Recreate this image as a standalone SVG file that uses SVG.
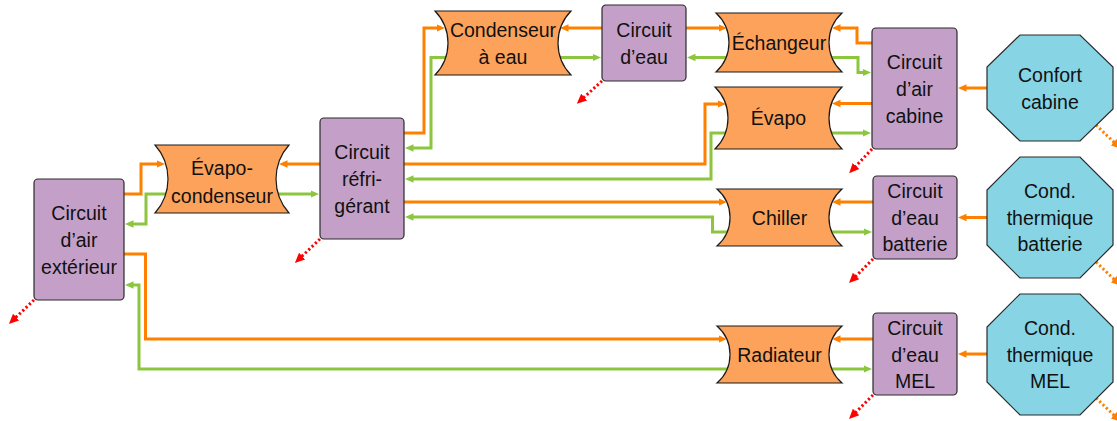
<svg xmlns="http://www.w3.org/2000/svg" width="1117" height="421" viewBox="0 0 1117 421">
<style>
.box{fill:#C4A0C8;stroke:#2a2a2a;stroke-width:1.2}
.hx{fill:#FDA25A;stroke:#1a1a1a;stroke-width:1.2}
.oct{fill:#87D4E5;stroke:#2a2a2a;stroke-width:1.2}
text{font-family:"Liberation Sans",Arial,sans-serif;font-size:19.5px;fill:#111;text-anchor:middle}
.o{fill:none;stroke:#FF8000;stroke-width:3;marker-end:url(#ao)}
.g{fill:none;stroke:#8CC63F;stroke-width:3;marker-end:url(#ag)}
.r{fill:none;stroke:#FF0000;stroke-width:3;stroke-dasharray:2.2 2.4;marker-end:url(#ar)}
.d{fill:none;stroke:#FF8000;stroke-width:3;stroke-dasharray:2.2 2.4;marker-end:url(#ad)}
</style>
<defs>
<marker id="ao" markerUnits="userSpaceOnUse" markerWidth="9" markerHeight="9" viewBox="0 0 9 9" refX="3.5" refY="4.5" orient="auto"><path d="M0,0.8 L8.5,4.5 L0,8.2 Z" fill="#FF8000"/></marker>
<marker id="ag" markerUnits="userSpaceOnUse" markerWidth="9" markerHeight="9" viewBox="0 0 9 9" refX="3.5" refY="4.5" orient="auto"><path d="M0,0.8 L8.5,4.5 L0,8.2 Z" fill="#8CC63F"/></marker>
<marker id="ar" markerUnits="userSpaceOnUse" markerWidth="11" markerHeight="11" viewBox="0 0 11 11" refX="3.5" refY="5.5" orient="auto"><path d="M0,1 L10,5.5 L0,10 Z" fill="#FF0000"/></marker>
<marker id="ad" markerUnits="userSpaceOnUse" markerWidth="11" markerHeight="11" viewBox="0 0 11 11" refX="3.5" refY="5.5" orient="auto"><path d="M0,1 L10,5.5 L0,10 Z" fill="#FF8000"/></marker>
</defs>

<g id="connectors">
<path class="o" d="M124,194 H141 V164 H160"/>
<path class="g" d="M166,194 H146 V224 H130"/>
<path class="o" d="M320,164 H284"/>
<path class="g" d="M278,194 H314"/>
<path class="o" d="M124,254 H145.5 V339 H722"/>
<path class="g" d="M727,369 H139 V285 H130"/>
<path class="o" d="M404,133 H424 V28 H440"/>
<path class="g" d="M446,57.5 H431 V148 H410"/>
<path class="o" d="M602,28 H565"/>
<path class="g" d="M560,57.5 H596"/>
<path class="o" d="M686,28 H722"/>
<path class="g" d="M727,57.5 H692"/>
<path class="o" d="M872,43 H857 V28 H837"/>
<path class="g" d="M832,57.5 H858 V72.5 H866"/>
<path class="o" d="M404,164 H705 V104 H721"/>
<path class="g" d="M726,133 H711 V179 H410"/>
<path class="o" d="M872,103.5 H837"/>
<path class="g" d="M832,133 H866"/>
<path class="o" d="M404,202 H722"/>
<path class="g" d="M727,232 H712.5 V217 H410"/>
<path class="o" d="M873,202 H837"/>
<path class="g" d="M832,232 H867"/>
<path class="o" d="M987,217.5 H963"/>
<path class="o" d="M987,88 H963"/>
<path class="o" d="M873,339 H837"/>
<path class="g" d="M832,369 H867"/>
<path class="o" d="M987,354 H963"/>
<path class="r" d="M34,300 L13.6,319.5"/>
<path class="r" d="M320,239 L299.6,258.5"/>
<path class="r" d="M602,81 L581.6,99.5"/>
<path class="r" d="M872,149 L853.6,168.5"/>
<path class="r" d="M873,259 L853.6,278.5"/>
<path class="r" d="M873,395 L853.6,414.5"/>
<path class="d" d="M1096,125 L1116.4,144.5"/>
<path class="d" d="M1096,262 L1116.4,281.5"/>
<path class="d" d="M1096,398 L1116.4,417.5"/>
</g>

<g id="ext">
<rect class="box" x="34" y="179" width="90" height="121" rx="4"/>
<text x="79" y="220">Circuit</text><text x="79" y="247">d’air</text><text x="79" y="274">extérieur</text>
</g>
<g id="evapocond">
<path class="hx" d="M155,145 H289 A51,51 0 0 0 289,213 H155 A51,51 0 0 0 155,145 Z"/>
<text x="222" y="175">Évapo-</text><text x="222" y="202.5">condenseur</text>
</g>
<g id="refri">
<rect class="box" x="320" y="118" width="84" height="121" rx="4"/>
<text x="362" y="158.5">Circuit</text><text x="362" y="185.5">réfri-</text><text x="362" y="212.5">gérant</text>
</g>
<g id="condeau">
<path class="hx" d="M435,11 H571 A45.9,45.9 0 0 0 571,75 H435 A45.9,45.9 0 0 0 435,11 Z"/>
<text x="503" y="37">Condenseur</text><text x="503" y="63.5">à eau</text>
</g>
<g id="circeau">
<rect class="box" x="602" y="5" width="84" height="76" rx="4"/>
<text x="644" y="37">Circuit</text><text x="644" y="63.5">d’eau</text>
</g>
<g id="echangeur">
<path class="hx" d="M716,13 H842 A40,40 0 0 0 842,72 H716 A40,40 0 0 0 716,13 Z"/>
<text x="779" y="49.5">Échangeur</text>
</g>
<g id="evapo">
<path class="hx" d="M715,87 H842 A43.5,43.5 0 0 0 842,149 H715 A43.5,43.5 0 0 0 715,87 Z"/>
<text x="778.5" y="125">Évapo</text>
</g>
<g id="cabine">
<rect class="box" x="872" y="28" width="85" height="121" rx="4"/>
<text x="914.5" y="69">Circuit</text><text x="914.5" y="96">d’air</text><text x="914.5" y="122.5">cabine</text>
</g>
<g id="confort">
<path class="oct" d="M1020,35 H1080 L1113,67 V109 L1080,141 H1020 L987,109 V67 Z"/>
<text x="1050" y="82">Confort</text><text x="1050" y="108.5">cabine</text>
</g>
<g id="chiller">
<path class="hx" d="M717,189 H842 A37.7,37.7 0 0 0 842,246 H717 A37.7,37.7 0 0 0 717,189 Z"/>
<text x="779.5" y="224.5">Chiller</text>
</g>
<g id="batterie">
<rect class="box" x="873" y="176" width="84" height="83" rx="4"/>
<text x="915" y="198">Circuit</text><text x="915" y="225">d’eau</text><text x="915" y="251">batterie</text>
</g>
<g id="condbatterie">
<path class="oct" d="M1020,157 H1080 L1113,190 V245 L1080,278 H1020 L987,245 V190 Z"/>
<text x="1050" y="198">Cond.</text><text x="1050" y="225">thermique</text><text x="1050" y="251">batterie</text>
</g>
<g id="radiateur">
<path class="hx" d="M717,326 H842 A37.7,37.7 0 0 0 842,383 H717 A37.7,37.7 0 0 0 717,326 Z"/>
<text x="779.5" y="361.5">Radiateur</text>
</g>
<g id="mel">
<rect class="box" x="873" y="313" width="84" height="82" rx="4"/>
<text x="915" y="335">Circuit</text><text x="915" y="362">d’eau</text><text x="915" y="388">MEL</text>
</g>
<g id="condmel">
<path class="oct" d="M1020,294 H1080 L1113,327 V382 L1080,415 H1020 L987,382 V327 Z"/>
<text x="1050" y="335">Cond.</text><text x="1050" y="362">thermique</text><text x="1050" y="388">MEL</text>
</g>
</svg>
